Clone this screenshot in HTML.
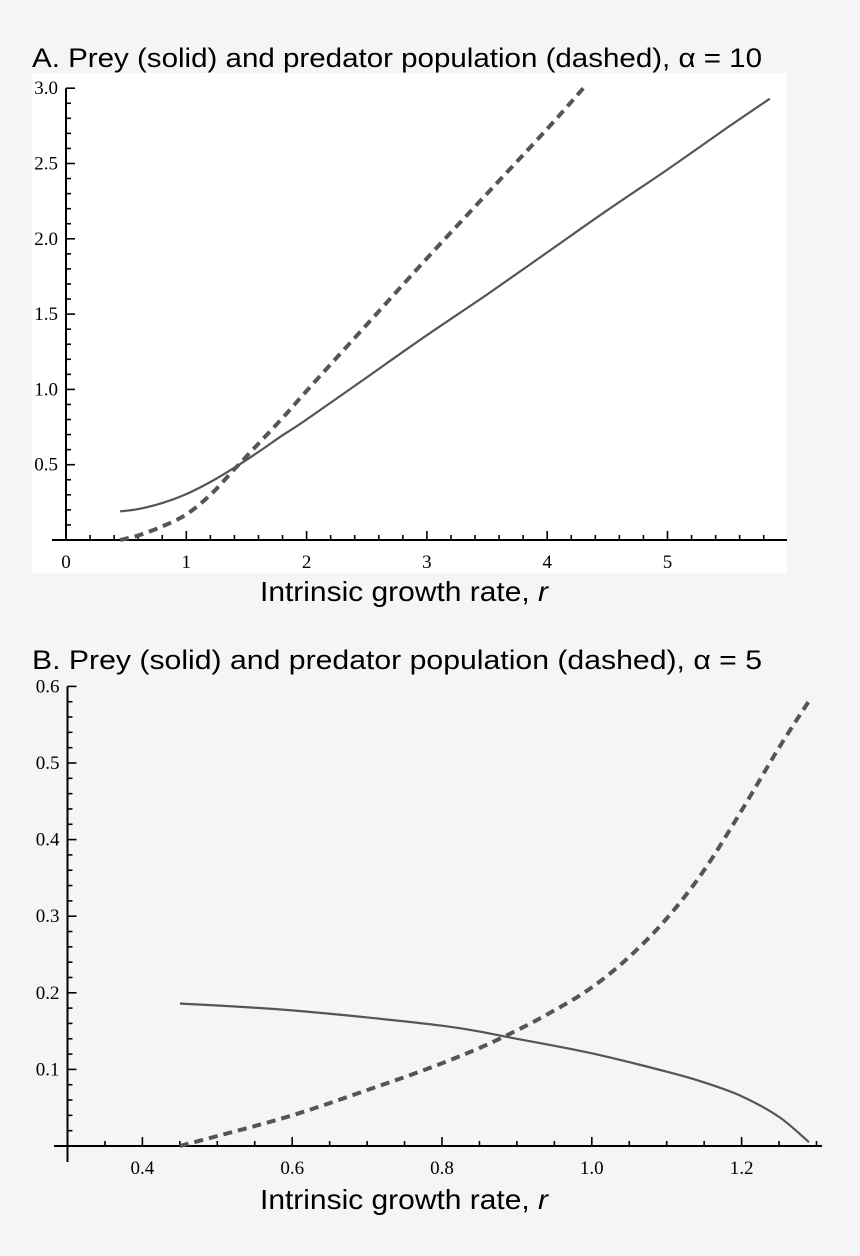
<!DOCTYPE html>
<html><head><meta charset="utf-8"><style>
html,body{margin:0;padding:0;background:#f5f5f5;}
svg{display:block}
.t{font-family:"Liberation Sans",sans-serif;fill:#000}
.tk{font-family:"Liberation Serif",serif;font-size:19px;fill:#000}
</style></head><body>
<svg id="chart" width="860" height="1256" viewBox="0 0 860 1256">
<rect x="0" y="0" width="860" height="1256" fill="#f5f5f5"/>
<rect x="32" y="73" width="755" height="500" fill="#ffffff"/>
<text class="t" x="32" y="67" font-size="27" textLength="730" lengthAdjust="spacingAndGlyphs">A. Prey (solid) and predator population (dashed), α = 10</text>
<text class="t" x="260" y="601" font-size="28" textLength="288" lengthAdjust="spacingAndGlyphs">Intrinsic growth rate, <tspan font-style="italic">r</tspan></text>
<text class="t" x="32" y="669" font-size="27" textLength="730" lengthAdjust="spacingAndGlyphs">B. Prey (solid) and predator population (dashed), α = 5</text>
<text class="t" x="260" y="1209" font-size="28" textLength="288" lengthAdjust="spacingAndGlyphs">Intrinsic growth rate, <tspan font-style="italic">r</tspan></text>
<g id="pa"></g>
<g id="pb"></g>
</svg>
<script>
// Panel A data
const aPreyR = [0.45,0.6,0.8,1,1.2,1.4,1.6,1.8,2,2.5,3,3.5,4,4.5,5,5.5,5.85];
const aPreyN = [0.19,0.205,0.245,0.305,0.385,0.48,0.585,0.695,0.8,1.08,1.36,1.63,1.91,2.19,2.46,2.74,2.93];
const aPredR = [0.45,0.6,0.8,1,1.2,1.4,1.6,1.8,2,2.5,3,3.5,4,4.3];
const aPredN = [0,0.03,0.09,0.17,0.3,0.47,0.64,0.81,0.99,1.43,1.87,2.3,2.73,3.0];
const aXTicks = [0,1,2,3,4,5];
const aYTicks = [0.5,1.0,1.5,2.0,2.5,3.0];
// Panel B data
const bPreyR = [0.45,0.6,0.8,0.9,1.0,1.1,1.15,1.2,1.25,1.29];
const bPreyN = [0.186,0.177,0.157,0.140,0.121,0.097,0.083,0.065,0.038,0.005];
const bPredR = [0.45,0.5,0.55,0.6,0.65,0.7,0.75,0.8,0.85,0.9,0.95,1.0,1.05,1.1,1.15,1.2,1.25,1.29];
const bPredN = [0,0.013,0.026,0.04,0.056,0.073,0.09,0.108,0.128,0.151,0.177,0.207,0.247,0.297,0.36,0.438,0.52,0.581];
const bXTicks = [0.4,0.6,0.8,1.0,1.2];
const bYTicks = [0.1,0.2,0.3,0.4,0.5,0.6];

const NS="http://www.w3.org/2000/svg";
function mk(parent,tag,attrs){const e=document.createElementNS(NS,tag);for(const k in attrs)e.setAttribute(k,attrs[k]);parent.appendChild(e);return e;}

function smooth(pts){
  let d='M'+pts[0][0].toFixed(1)+','+pts[0][1].toFixed(1);
  for(let i=0;i<pts.length-1;i++){
    const p0=pts[i-1]||pts[i],p1=pts[i],p2=pts[i+1],p3=pts[i+2]||p2;
    const c1=[p1[0]+(p2[0]-p0[0])/6,p1[1]+(p2[1]-p0[1])/6];
    const c2=[p2[0]-(p3[0]-p1[0])/6,p2[1]-(p3[1]-p1[1])/6];
    d+=' C'+c1.map(v=>v.toFixed(1)).join(',')+' '+c2.map(v=>v.toFixed(1)).join(',')+' '+p2[0].toFixed(1)+','+p2[1].toFixed(1);
  }
  return d;
}

function panel(g,cfg){
  const sx=v=>cfg.x0px+(v-cfg.xmin)*cfg.kx, sy=v=>cfg.y0px-(v-cfg.ymin)*cfg.ky;
  const ax=mk(g,'line',{x1:cfg.xAxisStart,y1:cfg.y0px,x2:cfg.xAxisEnd,y2:cfg.y0px,stroke:'#000','stroke-width':2});
  
  
  const ay=mk(g,'line',{x1:cfg.x0px,y1:sy(cfg.ymax),x2:cfg.x0px,y2:cfg.yAxisBottom,stroke:'#000','stroke-width':2});
  
  
  for(let v=cfg.xmin;v<=cfg.xmaxTick+1e-9;v+=cfg.xminor){
    const major=cfg.xTicks.some(t=>Math.abs(t-v)<1e-6);
    const x=sx(v); if(x<cfg.x0px+2&&!major) continue;
    const l=mk(g,'line',{x1:x,y1:cfg.y0px,x2:x,y2:cfg.y0px-(major?9:5),stroke:'#000','stroke-width':1.6});
    
    
  }
  cfg.xTicks.forEach((v,i)=>{
    const t=mk(g,'text',{x:sx(v),y:cfg.y0px+28,'text-anchor':'middle',class:'tk'});
    t.textContent=cfg.xLabels[i];
    
    
  });
  for(let v=cfg.ymin+cfg.yminor;v<=cfg.ymax+1e-9;v+=cfg.yminor){
    const major=cfg.yTicks.some(t=>Math.abs(t-v)<1e-6);
    const y=sy(v);
    const l=mk(g,'line',{x1:cfg.x0px,y1:y,x2:cfg.x0px+(major?9:5),y2:y,stroke:'#000','stroke-width':1.6});
    
    
  }
  cfg.yTicks.forEach(v=>{
    const t=mk(g,'text',{x:cfg.x0px-8,y:sy(v)+6,'text-anchor':'end',class:'tk'});
    t.textContent=v.toFixed(1);
    
    
  });
  const pts=(R,N)=>R.map((r,i)=>[sx(r),sy(N[i])]);
  const s=mk(g,'path',{d:smooth(pts(cfg.preyR,cfg.preyN)),fill:'none',stroke:'#555','stroke-width':2.2,'stroke-linejoin':'round'});
  
  
  const d=mk(g,'path',{d:smooth(pts(cfg.predR,cfg.predN)),fill:'none',stroke:'#555','stroke-width':4,'stroke-dasharray':'9 6','stroke-linejoin':'round'});
  
  
}
panel(document.getElementById('pa'),{xmin:0,ymin:0,ymax:3.0,x0px:66,y0px:540,kx:120.3,ky:150.6,
  xAxisStart:52,xAxisEnd:787,yAxisBottom:540,xminor:0.2,xmaxTick:5.9,yminor:0.1,
  xTicks:aXTicks,xLabels:aXTicks.map(String),yTicks:aYTicks,preyR:aPreyR,preyN:aPreyN,predR:aPredR,predN:aPredN});
panel(document.getElementById('pb'),{xmin:0.3,ymin:0,ymax:0.6,x0px:67.5,y0px:1146,kx:749,ky:766,
  xAxisStart:54,xAxisEnd:822,yAxisBottom:1162,xminor:0.05,xmaxTick:1.31,yminor:0.02,
  xTicks:bXTicks,xLabels:bXTicks.map(v=>v.toFixed(1)),yTicks:bYTicks,preyR:bPreyR,preyN:bPreyN,predR:bPredR,predN:bPredN});
</script>
</body></html>
